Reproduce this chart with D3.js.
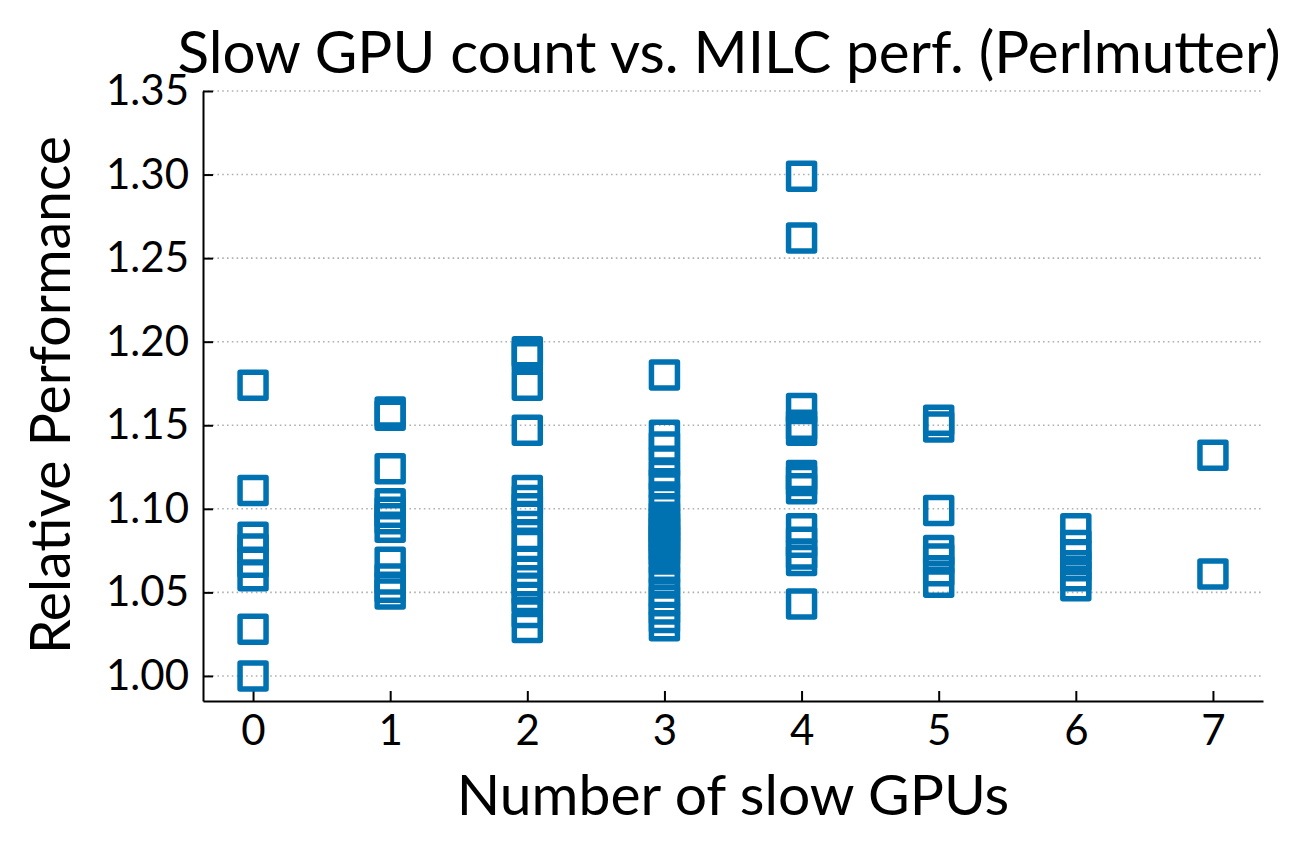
<!DOCTYPE html>
<html>
<head>
<meta charset="utf-8">
<script src="https://cdn.jsdelivr.net/npm/d3@7"></script>
<style>
  body { margin: 0; background: #fff; }
  svg text { font-family: Lato, "Open Sans", sans-serif; fill: #000; }
</style>
</head>
<body>
<div id="chart"></div>
<script>
// slow GPU count per run (x) and relative performance (y)
const slowGpus = [0, 1, 2, 3, 4, 5, 6, 7];
const perfByCount = [
  [1.174, 1.111, 1.083, 1.076, 1.068, 1.060, 1.028, 1.000],
  [1.158, 1.156, 1.124, 1.103, 1.098, 1.094, 1.089, 1.068, 1.058, 1.053, 1.049],
  [1.194, 1.191, 1.174, 1.147, 1.111, 1.105, 1.100, 1.095, 1.084, 1.078, 1.068, 1.062,
   1.057, 1.052, 1.047, 1.038, 1.029],
  [1.180, 1.144, 1.137, 1.128, 1.120, 1.115, 1.107, 1.100, 1.095, 1.092, 1.089, 1.086,
   1.083, 1.081, 1.078, 1.075, 1.070, 1.064, 1.057, 1.050, 1.045, 1.040, 1.035, 1.030],
  [1.299, 1.262, 1.160, 1.150, 1.147, 1.120, 1.117, 1.112, 1.088, 1.080, 1.073, 1.069, 1.043],
  [1.153, 1.149, 1.099, 1.075, 1.070, 1.063, 1.056],
  [1.088, 1.078, 1.072, 1.066, 1.060, 1.054],
  [1.132, 1.061]
];
const yTicks = [1.00, 1.05, 1.10, 1.15, 1.20, 1.25, 1.30, 1.35];

const points = [];
slowGpus.forEach((n, i) => perfByCount[i].forEach(v => points.push({ n: n, v: v })));

const width = 1296, height = 864;
const margin = { top: 91, right: 33, bottom: 163, left: 203 };
const blue = "#0072b2";

const svg = d3.select("#chart").append("svg")
    .attr("width", width)
    .attr("height", height);

const x = d3.scaleLinear()
    .domain([-0.365, 7.365])
    .range([margin.left, width - margin.right]);

const y = d3.scaleLinear()
    .domain([0.985, 1.35])
    .range([height - margin.bottom, margin.top]);

// horizontal dotted grid
svg.append("g")
    .selectAll("line")
    .data(yTicks)
    .join("line")
    .attr("x1", margin.left)
    .attr("x2", width - margin.right)
    .attr("y1", d => y(d))
    .attr("y2", d => y(d))
    .attr("stroke", "#b0b0b0")
    .attr("stroke-width", 1.6)
    .attr("stroke-dasharray", "1.6,3.2");

// axes, ticks pointing inward
const xAxis = svg.append("g")
    .attr("transform", `translate(0,${height - margin.bottom})`)
    .call(d3.axisBottom(x).tickValues(slowGpus).tickFormat(d3.format("d"))
        .tickSizeInner(-10).tickSizeOuter(0).tickPadding(14));

const yAxis = svg.append("g")
    .attr("transform", `translate(${margin.left},0)`)
    .call(d3.axisLeft(y).tickValues(yTicks).tickFormat(d3.format(".2f"))
        .tickSizeInner(-10).tickSizeOuter(0).tickPadding(14));

[xAxis, yAxis].forEach(g => {
    g.select(".domain").attr("stroke", "#000").attr("stroke-width", 2);
    g.selectAll(".tick line").attr("stroke", "#000").attr("stroke-width", 2);
    g.selectAll(".tick text").style("font-size", "42px").attr("fill", "#000");
});
xAxis.selectAll(".tick text").attr("dy", "0.71em");

// markers
const side = 26;
svg.append("g")
    .selectAll("rect")
    .data(points)
    .join("rect")
    .attr("x", d => x(d.n) - side / 2)
    .attr("y", d => y(d.v) - side / 2)
    .attr("width", side)
    .attr("height", side)
    .attr("fill", "none")
    .attr("stroke", blue)
    .attr("stroke-width", 5.5)
    .attr("stroke-linejoin", "round");

// stretch font size so the text covers the same width as in the figure
function fitText(sel, target) {
    const w = sel.node().getComputedTextLength();
    const fs = parseFloat(sel.style("font-size"));
    sel.style("font-size", (fs * target / w).toFixed(1) + "px");
}

const title = svg.append("text")
    .attr("x", 729)
    .attr("y", 73)
    .attr("text-anchor", "middle")
    .style("font-size", "50px")
    .text("Slow GPU count vs. MILC perf. (Perlmutter)");
fitText(title, 1104);

const xLabel = svg.append("text")
    .attr("x", 733)
    .attr("y", 815)
    .attr("text-anchor", "middle")
    .style("font-size", "46px")
    .text("Number of slow GPUs");
fitText(xLabel, 552);

const yLabel = svg.append("text")
    .attr("transform", `translate(70,395) rotate(-90)`)
    .attr("text-anchor", "middle")
    .style("font-size", "46px")
    .text("Relative Performance");
fitText(yLabel, 518);
</script>
</body>
</html>
